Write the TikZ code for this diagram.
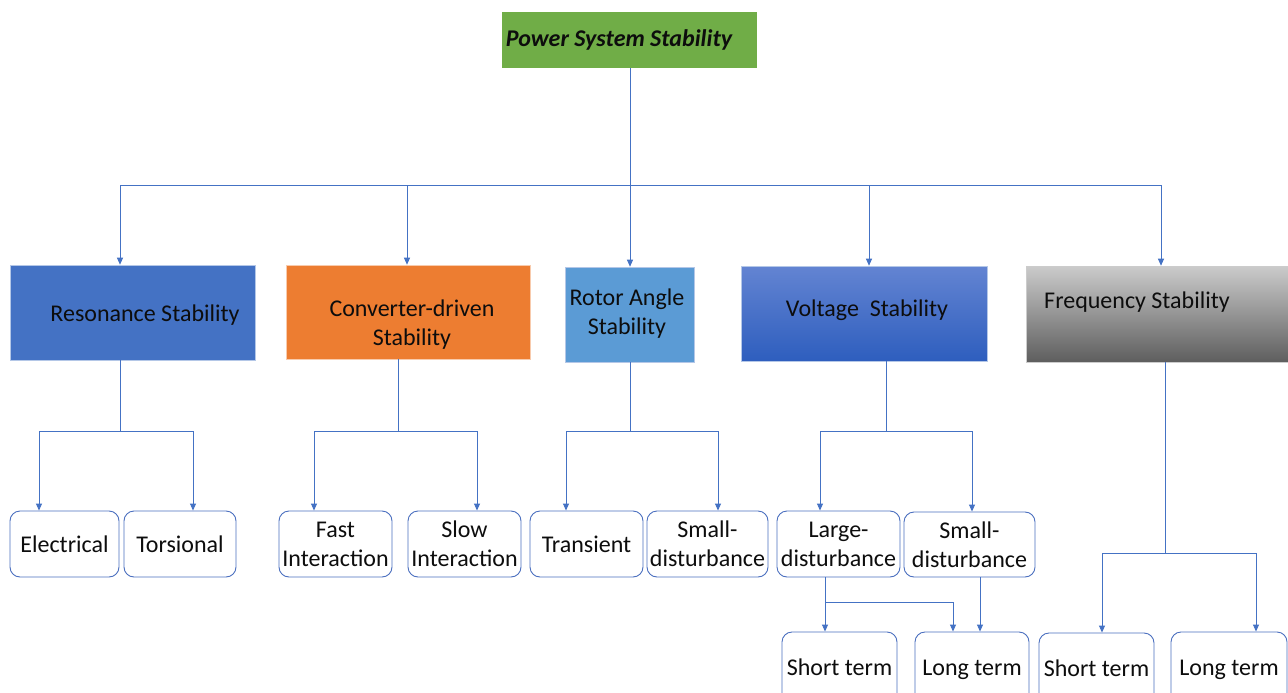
\documentclass[tikz,border=0pt]{standalone}
\usepackage{fontspec}
\setmainfont{Carlito}
\usetikzlibrary{arrows.meta}
\definecolor{lineblue}{HTML}{4472C4}
\definecolor{topgreen}{HTML}{70AD47}
\definecolor{resblue}{HTML}{4472C4}
\definecolor{convorange}{HTML}{ED7D31}
\definecolor{rotblue}{HTML}{5B9BD5}
\definecolor{voltop}{HTML}{6384D2}
\definecolor{volbot}{HTML}{2E5EBE}
\definecolor{freqtop}{HTML}{CBCBCB}
\definecolor{freqbot}{HTML}{5E5E5E}
\definecolor{leafborder}{HTML}{4A6FBF}
\begin{document}
\begin{tikzpicture}[x=1pt,y=-1pt,
  conn/.style={draw=lineblue,line width=0.9pt},
  arr/.style={conn,-{Triangle[width=6pt,length=7pt]}},
  catbox/.style={inner sep=0pt,draw=white!60!lineblue,line width=0.6pt},
  lbl/.style={inner sep=0pt,align=center,font=\fontsize{24}{29}\selectfont,text=black!95},
  leaf/.style={draw=leafborder,line width=0.9pt,rounded corners=10pt,fill=white,
    inner sep=0pt,align=center,font=\fontsize{24}{29}\selectfont,text=black!95},
  oneline/.style={text height=17pt,text depth=6pt}]
\useasboundingbox (0,0) rectangle (1288,693);
\clip (0,0) rectangle (1288,693);
\fill[white] (0,0) rectangle (1288,693);

% top
\node[inner sep=0pt,fill=topgreen,minimum width=255pt,minimum height=56pt] (top) at (629.5,40) {};
\node[lbl,font=\fontsize{24}{29}\selectfont\bfseries\itshape] (toptxt) at (619,40) {Power System Stability};

% level 2 boxes
\node[catbox,fill=resblue,minimum width=245pt,minimum height=95pt] (res) at (132.5,312.5) {};
\node[catbox,draw=white!60!convorange,fill=convorange,minimum width=244pt,minimum height=94pt] (conv) at (408,312) {};
\node[catbox,fill=rotblue,minimum width=129pt,minimum height=95pt] (rot) at (629.5,314.5) {};
\node[catbox,top color=voltop,bottom color=volbot,minimum width=246pt,minimum height=95pt] (volt) at (864,313.5) {};
\node[catbox,draw=gray!40,top color=freqtop,bottom color=freqbot,minimum width=262pt,minimum height=96pt] (freq) at (1157,314) {};

\node[lbl] (restxt) at (145,315) {Resonance Stability};
\node[lbl] (convtxt) at (412,325) {Converter-driven\\Stability};
\node[lbl] (rottxt) at (627,314) {Rotor Angle\\Stability};
\node[lbl] (volttxt) at (867,310) {Voltage\ \ Stability};
\node[lbl] (freqtxt) at (1137,302) {Frequency Stability};

% level 3 leaves
\node[leaf,minimum width=109pt,minimum height=66pt] (elec) at (64.5,544) {Electrical};
\node[leaf,minimum width=112pt,minimum height=66pt] (tors) at (180,544) {Torsional};
\node[leaf,minimum width=113pt,minimum height=66pt] (fast) at (335.5,544) {Fast\\Interaction};
\node[leaf,minimum width=113pt,minimum height=66pt] (slow) at (464.5,544) {Slow\\Interaction};
\node[leaf,minimum width=113pt,minimum height=66pt] (trans) at (586.5,544) {Transient};
\node[leaf,minimum width=121pt,minimum height=66pt] (smallr) at (707.5,544) {Small-\\disturbance};
\node[leaf,minimum width=123pt,minimum height=66pt] (large) at (838.5,544) {Large-\\disturbance};
\node[leaf,minimum width=131pt,minimum height=65pt] (smallv) at (969.5,544.5) {Small-\\disturbance};

% level 4 leaves
\node[leaf,oneline,minimum width=115pt,minimum height=76pt] (st1) at (839.5,670) {Short term};
\node[leaf,oneline,minimum width=114pt,minimum height=76pt] (lt1) at (972,670) {Long term};
\node[leaf,oneline,minimum width=115pt,minimum height=76pt] (st2) at (1096.5,671) {Short term};
\node[leaf,oneline,minimum width=116pt,minimum height=76pt] (lt2) at (1229,670) {Long term};

% level 1 connectors
\coordinate (j0) at (630,185);
\coordinate (a1) at (120,185);
\coordinate (a2) at (407,185);
\coordinate (a3) at (630,185);
\coordinate (a4) at (869,185);
\coordinate (a5) at (1161,185);
\draw[conn] (top.south -| j0) -- (j0);
\draw[conn] (a1) -- (a5);
\draw[arr] (a1) -- (a1 |- res.north);
\draw[arr] (a2) -- (a2 |- conv.north);
\draw[arr] (a3) -- (a3 |- rot.north);
\draw[arr] (a4) -- (a4 |- volt.north);
\draw[arr] (a5) -- (a5 |- freq.north);

% resonance subtree
\coordinate (s1) at (120,431);
\coordinate (d11) at (39,431);
\coordinate (d12) at (193,431);
\draw[conn] (s1 |- res.south) -- (s1);
\draw[conn] (d11) -- (d12);
\draw[arr] (d11) -- (d11 |- elec.north);
\draw[arr] (d12) -- (d12 |- tors.north);

% converter subtree
\coordinate (s2) at (398,431);
\coordinate (d21) at (314,431);
\coordinate (d22) at (477,431);
\draw[conn] (s2 |- conv.south) -- (s2);
\draw[conn] (d21) -- (d22);
\draw[arr] (d21) -- (d21 |- fast.north);
\draw[arr] (d22) -- (d22 |- slow.north);

% rotor subtree
\coordinate (s3) at (630,431);
\coordinate (d31) at (566,431);
\coordinate (d32) at (718,431);
\draw[conn] (s3 |- rot.south) -- (s3);
\draw[conn] (d31) -- (d32);
\draw[arr] (d31) -- (d31 |- trans.north);
\draw[arr] (d32) -- (d32 |- smallr.north);

% voltage subtree
\coordinate (s4) at (886,431);
\coordinate (d41) at (820,431);
\coordinate (d42) at (972,431);
\draw[conn] (s4 |- volt.south) -- (s4);
\draw[conn] (d41) -- (d42);
\draw[arr] (d41) -- (d41 |- large.north);
\draw[arr] (d42) -- (d42 |- smallv.north);

% large / small disturbance to terms
\coordinate (l1) at (825,602);
\coordinate (l2) at (953,602);
\coordinate (m2) at (980,602);
\draw[arr] (l1 |- large.south) -- (l1 |- st1.north);
\draw[conn] (l1) -- (l2);
\draw[arr] (l2) -- (l2 |- lt1.north);
\draw[arr] (m2 |- smallv.south) -- (m2 |- lt1.north);

% frequency subtree
\coordinate (s5) at (1165,553);
\coordinate (d51) at (1102,553);
\coordinate (d52) at (1256,553);
\draw[conn] (s5 |- freq.south) -- (s5);
\draw[conn] (d51) -- (d52);
\draw[arr] (d51) -- (d51 |- st2.north);
\draw[arr] (d52) -- (d52 |- lt2.north);
\end{tikzpicture}
\end{document}
